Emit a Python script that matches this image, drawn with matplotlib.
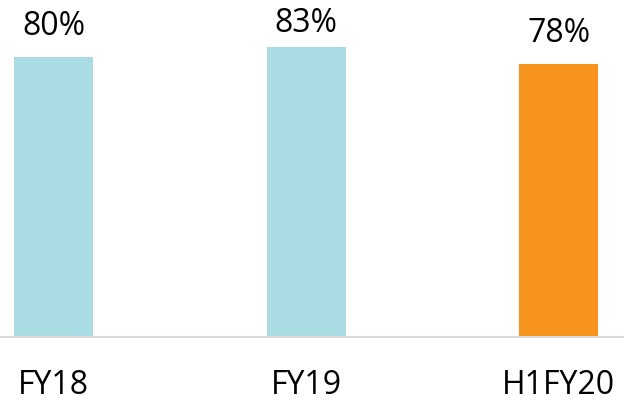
import matplotlib
matplotlib.use("Agg")
import matplotlib.pyplot as plt

categories = ["FY18", "FY19", "H1FY20"]
values = [80, 83, 78]
labels = ["80%", "83%", "78%"]
colors = ["#A9DCE3", "#A9DCE3", "#F7941D"]

plt.rcParams['font.family'] = ['Open Sans', 'DejaVu Sans']

PX_PER_UNIT = 3.5
fig = plt.figure(figsize=(6.24, 4.01), dpi=100)
ax = fig.add_axes([0, 64 / 401, 1, 337 / 401])
x = list(range(len(categories)))
ax.bar(x, values, width=0.313, color=colors)
ax.set_xlim(-0.212, 2.259)
ymax = 337 / PX_PER_UNIT
ax.set_ylim(0, ymax)

label_cap = ymax - 32 / PX_PER_UNIT  # labels kept inside the plot area
for xi, v, lab in zip(x, values, labels):
    ly = min(v + 22 / PX_PER_UNIT, label_cap)
    ax.text(xi, ly, lab, ha="center", va="baseline", fontsize=23, color="#000000")
    ax.annotate(categories[xi], (xi, 0), xytext=(0, -41), textcoords="offset points",
                ha="center", va="baseline", fontsize=23, color="#000000",
                annotation_clip=False)

for s in ["top", "left", "right"]:
    ax.spines[s].set_visible(False)
ax.spines["bottom"].set_color("#D9D9D9")
ax.spines["bottom"].set_linewidth(1.5)
ax.set_xticks([])
ax.set_yticks([])

fig.savefig("out.png", dpi=100)
